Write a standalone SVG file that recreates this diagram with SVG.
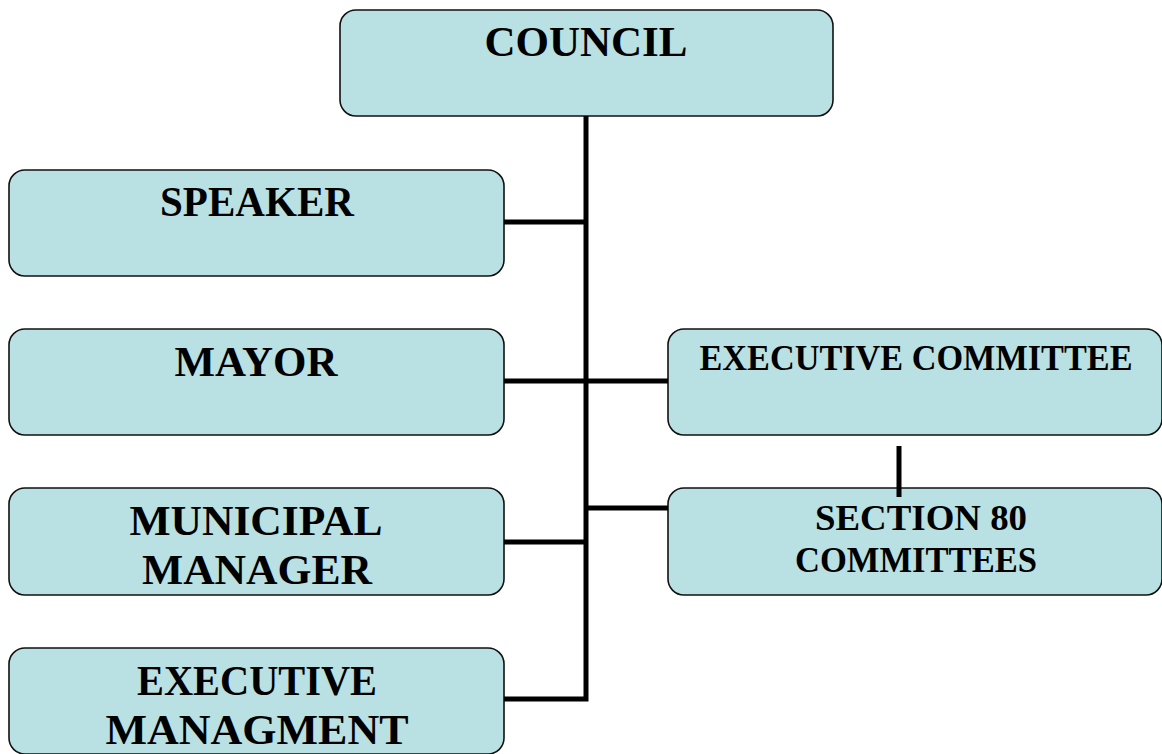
<svg xmlns="http://www.w3.org/2000/svg" width="1162" height="754" viewBox="0 0 1162 754">
  <style>
    .box { fill: #b9e0e3; stroke: #111; stroke-width: 1.6; }
    .lbl { font-family: "Liberation Serif", "Times New Roman", serif; font-weight: bold; fill: #000; text-anchor: middle; }
    .big { font-size: 42px; }
    .mid { font-size: 35px; }
    .link { fill: none; stroke: #000; stroke-width: 5; stroke-linecap: butt; stroke-linejoin: miter; }
  </style>
  <rect width="1162" height="754" fill="#fff"/>

  <g id="council">
    <rect class="box" x="340" y="10" width="493" height="106" rx="16"/>
    <text class="lbl big" x="586" y="56" textLength="203" lengthAdjust="spacingAndGlyphs">COUNCIL</text>
  </g>

  <g id="speaker">
    <rect class="box" x="9" y="170" width="495" height="106" rx="16"/>
    <text class="lbl big" x="257" y="216" textLength="194" lengthAdjust="spacingAndGlyphs">SPEAKER</text>
  </g>

  <g id="mayor">
    <rect class="box" x="9" y="329" width="495" height="106" rx="16"/>
    <text class="lbl big" x="256" y="376" textLength="163" lengthAdjust="spacingAndGlyphs">MAYOR</text>
  </g>

  <g id="municipal-manager">
    <rect class="box" x="9" y="488" width="495" height="107" rx="16"/>
    <text class="lbl big" x="256" y="535" textLength="253" lengthAdjust="spacingAndGlyphs">MUNICIPAL</text>
    <text class="lbl big" x="257" y="584" textLength="230" lengthAdjust="spacingAndGlyphs">MANAGER</text>
  </g>

  <g id="executive-managment">
    <rect class="box" x="9" y="648" width="495" height="106" rx="16"/>
    <text class="lbl big" x="257" y="695" textLength="240" lengthAdjust="spacingAndGlyphs">EXECUTIVE</text>
    <text class="lbl big" x="257" y="744" textLength="303" lengthAdjust="spacingAndGlyphs">MANAGMENT</text>
  </g>

  <g id="executive-committee">
    <rect class="box" x="668" y="329" width="494" height="106" rx="16"/>
    <text class="lbl mid" x="916" y="370" textLength="433" lengthAdjust="spacingAndGlyphs">EXECUTIVE COMMITTEE</text>
  </g>

  <g id="section-80-committees">
    <rect class="box" x="668" y="488" width="494" height="107" rx="16"/>
    <text class="lbl mid" x="921" y="530" textLength="212" lengthAdjust="spacingAndGlyphs">SECTION 80</text>
    <text class="lbl mid" x="916" y="572" textLength="242" lengthAdjust="spacingAndGlyphs">COMMITTEES</text>
  </g>

  <!-- connectors, drawn last so the short link overlaps the box edge -->
  <g id="connectors">
    <path class="link" d="M586 116 V699 H504"/>
    <path class="link" d="M504 222 H586"/>
    <path class="link" d="M504 381 H668"/>
    <path class="link" d="M586 508 H668"/>
    <path class="link" d="M504 542 H586"/>
    <path class="link" d="M899 446 V497"/>
  </g>
</svg>
